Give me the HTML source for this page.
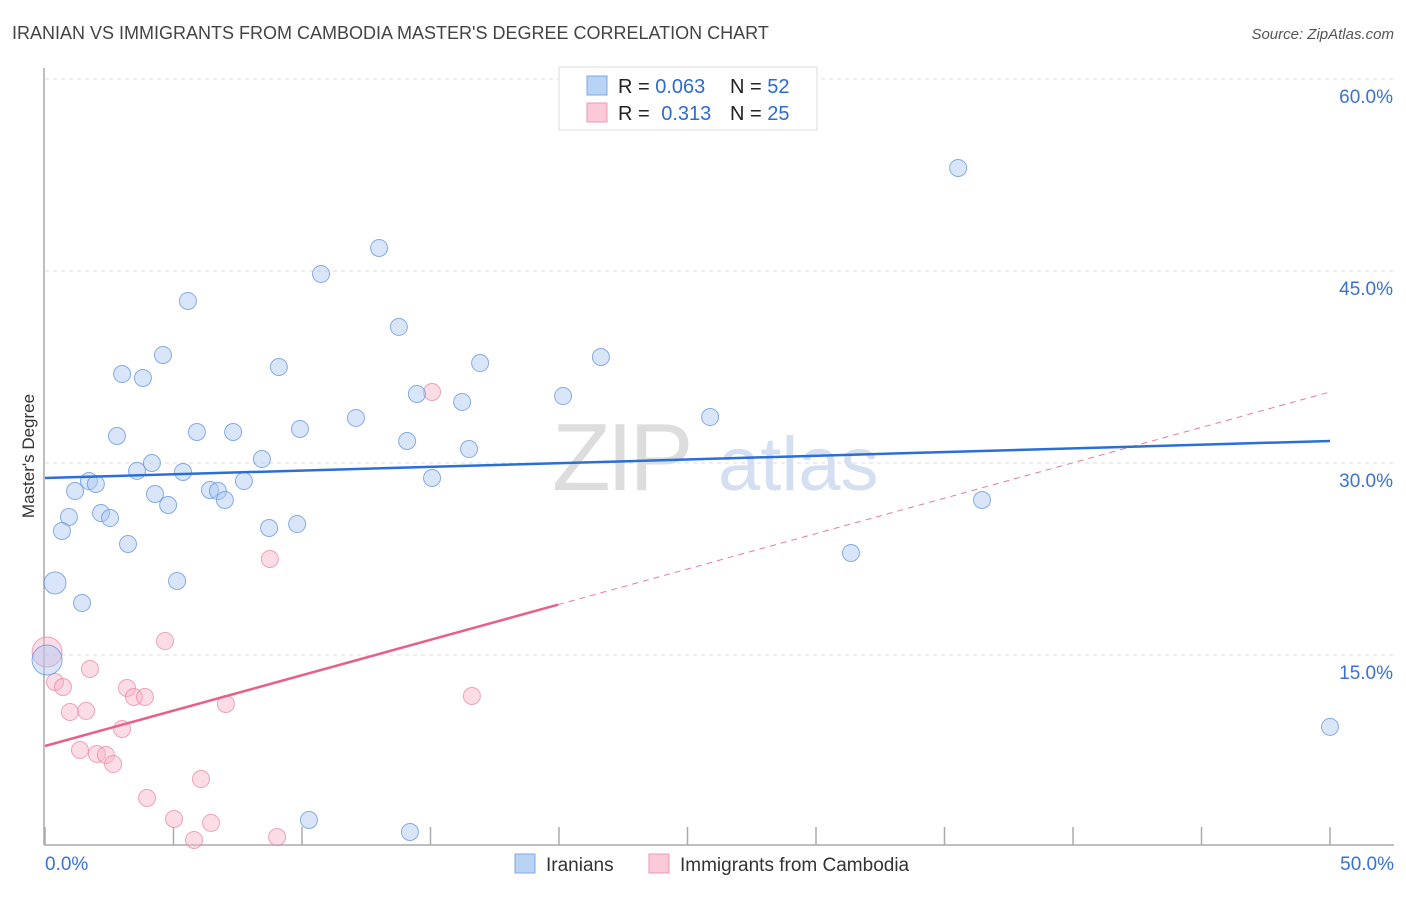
<!DOCTYPE html>
<html><head><meta charset="utf-8"><style>
body{margin:0;background:#fff;font-family:"Liberation Sans",sans-serif;}
svg text{font-family:"Liberation Sans",sans-serif;}
</style></head><body>
<svg id="chart" width="1406" height="892" xmlns="http://www.w3.org/2000/svg">
<text x="12" y="39" font-size="18" fill="#444">IRANIAN VS IMMIGRANTS FROM CAMBODIA MASTER'S DEGREE CORRELATION CHART</text>
<text x="1394" y="39" font-size="15" fill="#555" font-style="italic" text-anchor="end">Source: ZipAtlas.com</text>
<g>
<text x="552" y="490" font-size="96" fill="#ddd" font-family="Liberation Serif" letter-spacing="-4">ZIP</text>
<text x="718" y="490" font-size="76" fill="#d4e0f2">atlas</text>
</g>
<g id="grid"></g>
<g id="axes"></g>
<g id="marks"></g>
<text transform="translate(34,456) rotate(-90)" font-size="17" fill="#333" text-anchor="middle">Master's Degree</text>
<g>
<rect x="559" y="67" width="258" height="63" fill="#fff" stroke="#ddd"/>
<rect x="587" y="76" width="20" height="19" fill="#b9d3f5" stroke="#7eaae6"/>
<rect x="587" y="103" width="20" height="19" fill="#fbc9d7" stroke="#ef9ab4"/>
<text x="618" y="93" font-size="20" fill="#222">R = <tspan fill="#2f6bd1">0.063</tspan></text>
<text x="730" y="93" font-size="20" fill="#222">N = <tspan fill="#2f6bd1">52</tspan></text>
<text x="618" y="120" font-size="20" fill="#222">R = <tspan fill="#2f6bd1" dx="6">0.313</tspan></text>
<text x="730" y="120" font-size="20" fill="#222">N = <tspan fill="#2f6bd1">25</tspan></text>
</g>
<g>
<rect x="515" y="854" width="20" height="19" fill="#b9d3f5" stroke="#7eaae6"/>
<text x="546" y="871" font-size="19" fill="#333">Iranians</text>
<rect x="649" y="854" width="20" height="19" fill="#fbc9d7" stroke="#ef9ab4"/>
<text x="680" y="871" font-size="19" fill="#333">Immigrants from Cambodia</text>
</g>
</svg>
<script>
const blueX=[35.53,13.0,10.74,5.56,13.77,4.59,21.63,9.1,16.93,3.0,3.81,14.47,20.16,16.23,12.1,25.88,2.8,5.91,7.32,9.92,14.09,16.5,8.44,4.16,3.58,5.37,15.06,1.71,1.98,7.74,1.17,4.28,6.42,6.73,7.0,4.79,36.46,0.93,2.18,2.53,0.66,8.72,9.81,3.23,31.36,0.39,5.14,1.44,0.08,50,10.27,14.2];
const blueY=[53.05,46.8,44.77,42.66,40.63,38.44,38.28,37.5,37.81,36.95,36.64,35.39,35.23,34.77,33.52,33.59,32.11,32.42,32.42,32.66,31.72,31.09,30.31,30.0,29.38,29.3,28.83,28.59,28.36,28.59,27.81,27.58,27.89,27.81,27.11,26.72,27.11,25.78,26.09,25.7,24.69,24.92,25.23,23.67,22.97,20.63,20.78,19.06,14.61,9.38,2.11,1.17];
const blueR=[8.5,8.5,8.5,8.5,8.5,8.5,8.5,8.5,8.5,8.5,8.5,8.5,8.5,8.5,8.5,8.5,8.5,8.5,8.5,8.5,8.5,8.5,8.5,8.5,8.5,8.5,8.5,8.5,8.5,8.5,8.5,8.5,8.5,8.5,8.5,8.5,8.5,8.5,8.5,8.5,8.5,8.5,8.5,8.5,8.5,11,8.5,8.5,15,8.5,8.5,8.5];
const pinkX=[0.08,0.39,0.7,1.75,0.97,1.6,4.67,3.19,3.46,3.89,8.75,15.06,16.61,7.04,3.0,1.36,2.02,2.37,2.65,6.07,3.97,5.02,6.46,5.8,9.03];
const pinkY=[15.23,12.89,12.5,13.91,10.55,10.63,16.09,12.42,11.72,11.72,22.5,35.55,11.8,11.17,9.22,7.58,7.27,7.19,6.48,5.31,3.83,2.19,1.88,0.55,0.78];
const pinkR=[15,8.5,8.5,8.5,8.5,8.5,8.5,8.5,8.5,8.5,8.5,8.5,8.5,8.5,8.5,8.5,8.5,8.5,8.5,8.5,8.5,8.5,8.5,8.5,8.5];
const blueTrend=[28.83,31.72];
const pinkTrend=[7.89,35.55];
const pinkSolidEnd=19.96;
const yTicks=[15,30,45,60];
const yTickLabels=["15.0%","30.0%","45.0%","60.0%"];
const xTicks=[0,5,10,15,20,25,30,35,40,45,50];

const NS="http://www.w3.org/2000/svg";
const sx=v=>45+v*25.7;
const sy=v=>847-v*12.8;
function mk(tag,attrs,parent){const e=document.createElementNS(NS,tag);for(const k in attrs)e.setAttribute(k,attrs[k]);parent.appendChild(e);return e;}
const grid=document.getElementById('grid'),axes=document.getElementById('axes'),marks=document.getElementById('marks');
yTicks.forEach((t,i)=>{
 const l=mk('line',{x1:45,x2:1394,y1:sy(t),y2:sy(t),stroke:'#ddd','stroke-dasharray':'4,4'},grid);
 
 
 const tx=mk('text',{x:1393,y:sy(t)+24,'font-size':19,fill:'#3a72d4','text-anchor':'end'},axes);
 tx.textContent=yTickLabels[i];
 
 
});
const la=mk('line',{x1:44,x2:44,y1:68,y2:845,stroke:'#aaa','stroke-width':1.5},axes);


const ba=mk('line',{x1:44,x2:1394,y1:845,y2:845,stroke:'#aaa','stroke-width':1.5},axes);


xTicks.forEach(t=>{
 const l=mk('line',{x1:sx(t),x2:sx(t),y1:827,y2:845,stroke:'#aaa','stroke-width':1.5},axes);
 
 
});
const xl0=mk('text',{x:45,y:870,'font-size':19,fill:'#3a72d4'},axes);xl0.textContent='0.0%';


const xl1=mk('text',{x:1394,y:870,'font-size':19,fill:'#3a72d4','text-anchor':'end'},axes);xl1.textContent='50.0%';



pinkX.forEach((x,i)=>{
 const c=mk('circle',{cx:sx(x),cy:sy(pinkY[i]),r:pinkR[i],fill:'rgba(248,180,200,0.45)',stroke:'rgba(230,130,160,0.7)','stroke-width':1},marks);
 
 
});
blueX.forEach((x,i)=>{
 const c=mk('circle',{cx:sx(x),cy:sy(blueY[i]),r:blueR[i],fill:'rgba(170,200,245,0.45)',stroke:'rgba(90,140,220,0.7)','stroke-width':1},marks);
 
 
});
const pv=x=>pinkTrend[0]+(pinkTrend[1]-pinkTrend[0])*x/50;
const pd=mk('line',{x1:sx(pinkSolidEnd),y1:sy(pv(pinkSolidEnd)),x2:sx(50),y2:sy(pinkTrend[1]),stroke:'#e87a9c','stroke-width':1,'stroke-dasharray':'6,5'},marks);


const ps=mk('line',{x1:sx(0),y1:sy(pinkTrend[0]),x2:sx(pinkSolidEnd),y2:sy(pv(pinkSolidEnd)),stroke:'#e8608a','stroke-width':2.5},marks);


const bt=mk('line',{x1:sx(0),y1:sy(blueTrend[0]),x2:sx(50),y2:sy(blueTrend[1]),stroke:'#2a6fd6','stroke-width':2.5},marks);


</script>
</body></html>
